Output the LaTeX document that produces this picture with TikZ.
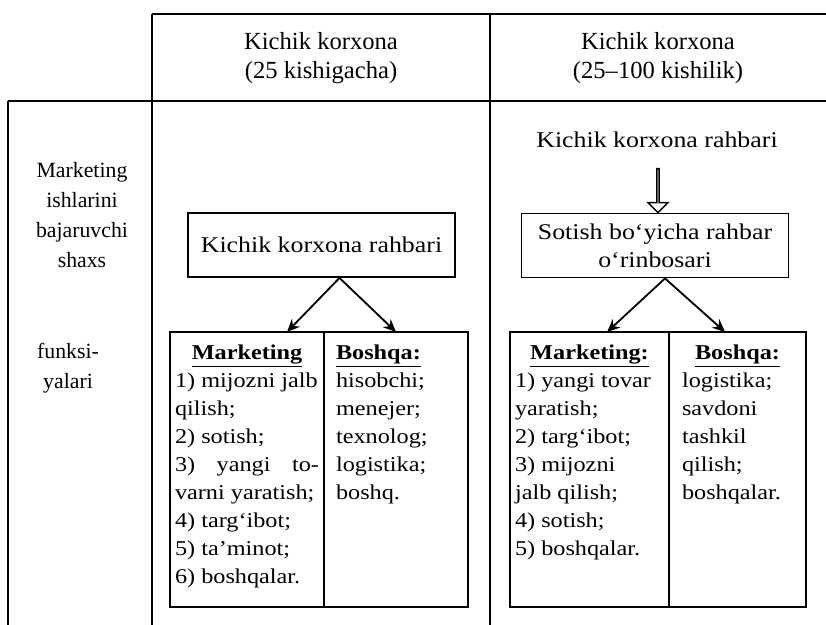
\documentclass[tikz,border=0pt]{standalone}
\usepackage{fontspec}
\setmainfont{Liberation Serif}
\newfontfamily\widefont{Liberation Serif}[FakeStretch=1.15]
\usepackage{tikz}
\usetikzlibrary{shapes.arrows, arrows.meta, positioning}
\tikzset{boss/.style={draw, line width=1.3pt, minimum width=66.75mm, minimum height=16mm,
		align=center, font=\widefont\fontsize{16}{19.9}\selectfont},
	colbox/.style={draw, line width=1.3pt, anchor=north west, outer sep=0pt, inner ysep=0.75mm,
		font=\widefont\fontsize{15}{19.9}\selectfont},
	link/.style={line width=1.3pt, -{Stealth[length=3.2mm, width=2.8mm]}}}
\newcommand{\colhead}[2][\centering]{\vspace*{2.5mm}#1\textbf{\underline{#2}}\par\raggedright}

\begin{document}
\begin{tikzpicture}[x=0.25mm, y=-0.25mm]
		\useasboundingbox (0,0) rectangle (826,625);
		\draw[line width=1.3pt] (152,14) -- (826,14);
		\draw[line width=1.3pt] (8,101) -- (826,101);
		\draw[line width=1.3pt] (8,101) -- (8,625);
		\draw[line width=1.3pt] (152,14) -- (152,625);
		\draw[line width=1.3pt] (490,14) -- (490,625);
		\node[align=center, font=\fontsize{17.5}{20.6}\selectfont] (smallhead) at (321,58) {Kichik korxona\\(25 kishigacha)};
		\node[align=center, font=\fontsize{17.5}{20.6}\selectfont] (midhead) at (658,58) {Kichik korxona\\(25–100 kishilik)};
		\node[align=center, font=\fontsize{15.5}{21.3}\selectfont] (doer) at (82,215) {Marketing\\ishlarini\\bajaruvchi\\shaxs};
		\node[align=center, font=\fontsize{15.5}{21.3}\selectfont] (func) at (68,368) {funksi-\\yalari};
		% 25 kishigacha
		\node[boss] (lboss) at (321.5,245) {Kichik korxona rahbari};
		\node[colbox, inner xsep=1.25mm] (lmark) at (170,332) {\parbox[t][67.25mm][t]{36mm}{%
				\colhead{Marketing}
				1) mijozni jalb\\
				qilish;\\
				2) sotish;\\
				\makebox[\linewidth][s]{3) yangi to-}\\
				varni yaratish;\\
				4) targ‘ibot;\\
				5) ta’minot;\\
				6) boshqalar.}};
		\node[colbox, inner xsep=3mm, right=0pt of lmark] (lother) {\parbox[t][67.25mm][t]{30mm}{%
				\colhead[\raggedright]{Boshqa:}
				hisobchi;\\
				menejer;\\
				texnolog;\\
				logistika;\\
				boshq.}};
		\draw[link] ([xshift=4.5mm]lboss.south) -- ([xshift=10mm]lmark.north);
		\draw[link] ([xshift=4.5mm]lboss.south) -- (lother.north);
		% 25-100 kishilik
		\node[font=\widefont\fontsize{16}{19.9}\selectfont] (rtop) at (657,140) {Kichik korxona rahbari};
		\node[boss] (rboss) at (655,245.5) {Sotish bo‘yicha rahbar\\o‘rinbosari};
		\node[single arrow, draw, line width=1pt, shape border rotate=270, inner sep=0pt,
			minimum width=5mm, minimum height=11mm, single arrow head extend=1.4mm] (down) at (658,190) {};
		\node[colbox, inner xsep=1.25mm] (rmark) at (510,332) {\parbox[t][67.25mm][t]{37.25mm}{%
				\colhead{Marketing:}
				1) yangi tovar\\
				yaratish;\\
				2) targ‘ibot;\\
				3) mijozni\\
				jalb qilish;\\
				4) sotish;\\
				5) boshqalar.}};
		\node[colbox, inner xsep=3.25mm, right=0pt of rmark] (rother) {\parbox[t][67.25mm][t]{27.75mm}{%
				\colhead{Boshqa:}
				logistika;\\
				savdoni\\
				tashkil\\
				qilish;\\
				boshqalar.}};
		\draw[link] ([xshift=2.5mm]rboss.south) -- ([xshift=4.4mm]rmark.north);
		\draw[link] ([xshift=2.5mm]rboss.south) -- ([xshift=-3.1mm]rother.north);
	\end{tikzpicture}
\end{document}
